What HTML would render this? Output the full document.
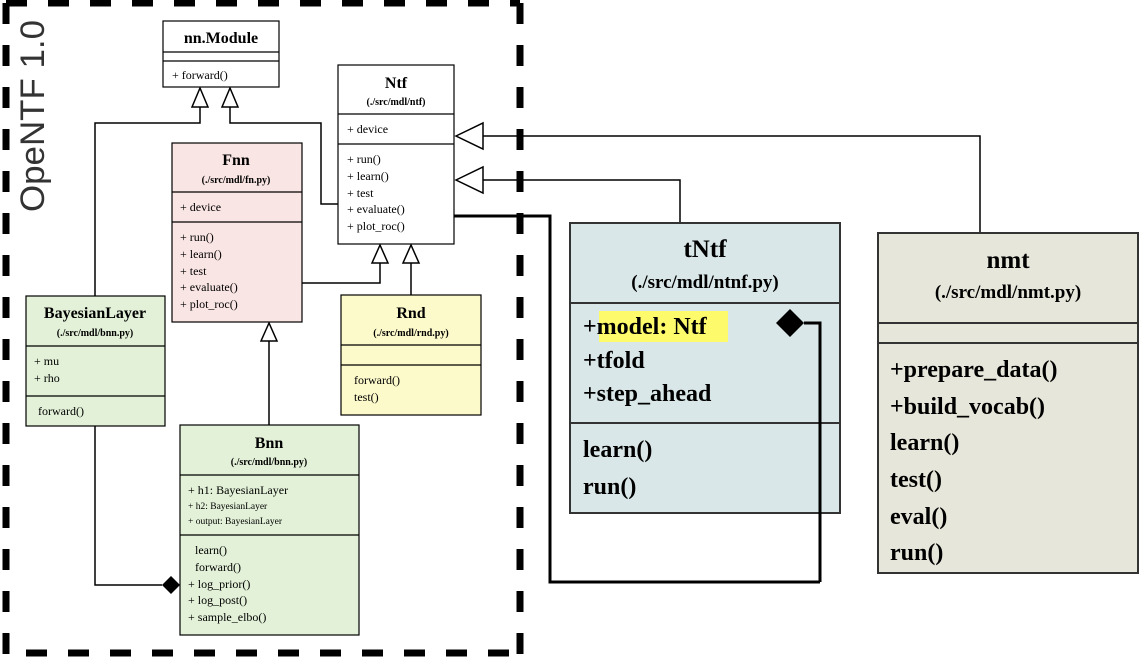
<!DOCTYPE html>
<html><head><meta charset="utf-8"><style>
html,body{margin:0;padding:0;background:#fff;}
svg{display:block;}
text{font-family:"Liberation Serif",serif;fill:#000;}
.b{font-weight:bold;}
</style></head><body>
<svg width="1140" height="658" viewBox="0 0 1140 658" xmlns="http://www.w3.org/2000/svg">
<!-- dashed frame -->
<g stroke="#000" stroke-width="7" fill="none" stroke-dasharray="21,21">
<line x1="6" y1="3" x2="520" y2="3"/>
<line x1="6" y1="3" x2="6" y2="656"/>
<line x1="520" y1="3" x2="520" y2="656"/>
<line x1="26" y1="653" x2="520" y2="653"/>
</g>
<text transform="translate(44,212) rotate(-90)" style="font-family:'Liberation Sans',sans-serif;font-size:34px;fill:#333" textLength="192" lengthAdjust="spacingAndGlyphs">OpeNTF 1.0</text>

<!-- connectors (thin) -->
<g stroke="#000" stroke-width="1.5" fill="none">
<polyline points="200,107 200,123 95,123 95,296"/>
<polyline points="230,107 230,123 321,123 321,204 338,204"/>
<polyline points="302,283 380,283 380,263"/>
<line x1="411" y1="295" x2="411" y2="263"/>
<line x1="269" y1="341" x2="269" y2="425"/>
<polyline points="95,426 95,585 162,585"/>
<polyline points="483,136 980,136 980,233"/>
<polyline points="483,180 680,180 680,223"/>
</g>
<g stroke="#000" stroke-width="3" fill="none">
<polyline points="454,216 550,216 550,582 820,582"/>
</g>
<!-- arrowheads -->
<g stroke="#000" stroke-width="1.5" fill="#fff">
<polygon points="200,88 192,107 208,107"/>
<polygon points="230,88 222,107 238,107"/>
<polygon points="380,245 372,263 388,263"/>
<polygon points="411,245 403,263 419,263"/>
<polygon points="269,323 261,341 277,341"/>
<polygon points="456,136 483,123 483,149"/>
<polygon points="456,180 483,167 483,193"/>
</g>
<polygon points="162,585 171,576 180,585 171,594" fill="#000"/>

<!-- nn.Module -->
<g stroke="#000" stroke-width="1.2">
<rect x="163" y="21" width="116" height="66" fill="#fff"/>
<line x1="163" y1="52" x2="279" y2="52"/><line x1="163" y1="61" x2="279" y2="61"/>
</g>
<text x="221" y="43" text-anchor="middle" class="b" font-size="16">nn.Module</text>
<text x="172" y="79" font-size="12">+ forward()</text>

<!-- Ntf -->
<g stroke="#000" stroke-width="1.2">
<rect x="338" y="65" width="116" height="179" fill="#fff"/>
<line x1="338" y1="114" x2="454" y2="114"/><line x1="338" y1="144" x2="454" y2="144"/>
</g>
<text x="396" y="88" text-anchor="middle" class="b" font-size="16">Ntf</text>
<text x="396" y="105" text-anchor="middle" class="b" font-size="10">(./src/mdl/ntf)</text>
<text x="347" y="133" font-size="12">+ device</text>
<text x="347" y="163" font-size="12">+ run()</text>
<text x="347" y="180" font-size="12">+ learn()</text>
<text x="347" y="197" font-size="12">+ test</text>
<text x="347" y="213" font-size="12">+ evaluate()</text>
<text x="347" y="230" font-size="12">+ plot_roc()</text>

<!-- Fnn -->
<g stroke="#000" stroke-width="1.2">
<rect x="172" y="143" width="130" height="179" fill="#f9e5e3"/>
<line x1="172" y1="192" x2="302" y2="192"/><line x1="172" y1="222" x2="302" y2="222"/>
</g>
<text x="236" y="165" text-anchor="middle" class="b" font-size="16">Fnn</text>
<text x="236" y="183" text-anchor="middle" class="b" font-size="10">(./src/mdl/fn.py)</text>
<text x="180" y="211" font-size="12">+ device</text>
<text x="180" y="241" font-size="12">+ run()</text>
<text x="180" y="258" font-size="12">+ learn()</text>
<text x="180" y="275" font-size="12">+ test</text>
<text x="180" y="291" font-size="12">+ evaluate()</text>
<text x="180" y="308" font-size="12">+ plot_roc()</text>

<!-- BayesianLayer -->
<g stroke="#000" stroke-width="1.2">
<rect x="26" y="296" width="139" height="130" fill="#e3f1d8"/>
<line x1="26" y1="346" x2="165" y2="346"/><line x1="26" y1="396" x2="165" y2="396"/>
</g>
<text x="95" y="318" text-anchor="middle" class="b" font-size="16">BayesianLayer</text>
<text x="95" y="336" text-anchor="middle" class="b" font-size="10">(./src/mdl/bnn.py)</text>
<text x="34" y="365" font-size="12">+ mu</text>
<text x="34" y="382" font-size="12">+ rho</text>
<text x="38" y="415" font-size="12">forward()</text>

<!-- Rnd -->
<g stroke="#000" stroke-width="1.2">
<rect x="341" y="295" width="140" height="120" fill="#fcf9cb"/>
<line x1="341" y1="345" x2="481" y2="345"/><line x1="341" y1="365" x2="481" y2="365"/>
</g>
<text x="411" y="318" text-anchor="middle" class="b" font-size="16">Rnd</text>
<text x="411" y="336" text-anchor="middle" class="b" font-size="10">(./src/mdl/rnd.py)</text>
<text x="354" y="384" font-size="12">forward()</text>
<text x="354" y="401" font-size="12">test()</text>

<!-- Bnn -->
<g stroke="#000" stroke-width="1.2">
<rect x="180" y="425" width="179" height="210" fill="#e3f1d8"/>
<line x1="180" y1="475" x2="359" y2="475"/><line x1="180" y1="535" x2="359" y2="535"/>
</g>
<text x="269" y="448" text-anchor="middle" class="b" font-size="16">Bnn</text>
<text x="269" y="465" text-anchor="middle" class="b" font-size="10">(./src/mdl/bnn.py)</text>
<text x="188" y="494" font-size="12">+ h1: BayesianLayer</text>
<text x="188" y="509" font-size="9.5">+ h2: BayesianLayer</text>
<text x="188" y="524" font-size="9.5">+ output: BayesianLayer</text>
<text x="195" y="554" font-size="12">learn()</text>
<text x="195" y="571" font-size="12">forward()</text>
<text x="188" y="588" font-size="12">+ log_prior()</text>
<text x="188" y="604" font-size="12">+ log_post()</text>
<text x="188" y="621" font-size="12">+ sample_elbo()</text>

<!-- tNtf -->
<g stroke="#333" stroke-width="2">
<rect x="570" y="223" width="270" height="290" fill="#d9e7e8"/>
<line x1="570" y1="303" x2="840" y2="303"/><line x1="570" y1="423" x2="840" y2="423"/>
</g>
<text x="705" y="257" text-anchor="middle" class="b" font-size="25">tNtf</text>
<text x="705" y="288" text-anchor="middle" class="b" font-size="19">(./src/mdl/ntnf.py)</text>
<rect x="599" y="311" width="129" height="31" fill="#fdfb6c"/>
<text x="583" y="334" class="b" font-size="24">+model: Ntf</text>
<text x="583" y="368" class="b" font-size="24">+tfold</text>
<text x="583" y="401" class="b" font-size="24">+step_ahead</text>
<text x="583" y="457" class="b" font-size="24">learn()</text>
<text x="583" y="494" class="b" font-size="24">run()</text>

<!-- thick connector over tNtf -->
<polyline points="820,582 820,323 804,323" stroke="#000" stroke-width="3" fill="none"/>
<polygon points="776,323 790,309 804,323 790,337" fill="#000"/>

<!-- nmt -->
<g stroke="#333" stroke-width="2">
<rect x="878" y="233" width="260" height="340" fill="#e7e6da"/>
<line x1="878" y1="323" x2="1138" y2="323"/><line x1="878" y1="343" x2="1138" y2="343"/>
</g>
<text x="1008" y="268" text-anchor="middle" class="b" font-size="25">nmt</text>
<text x="1008" y="298" text-anchor="middle" class="b" font-size="19">(./src/mdl/nmt.py)</text>
<text x="890" y="377" class="b" font-size="24">+prepare_data()</text>
<text x="890" y="414" class="b" font-size="24">+build_vocab()</text>
<text x="890" y="450" class="b" font-size="24">learn()</text>
<text x="890" y="487" class="b" font-size="24">test()</text>
<text x="890" y="524" class="b" font-size="24">eval()</text>
<text x="890" y="560" class="b" font-size="24">run()</text>
</svg>
</body></html>
